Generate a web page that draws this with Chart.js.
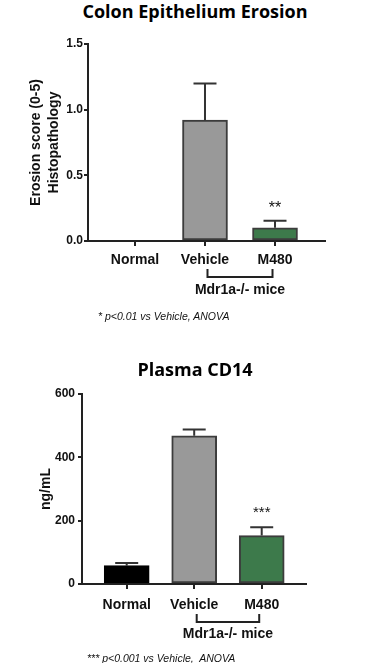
<!DOCTYPE html>
<html>
<head>
<meta charset="utf-8">
<script src="https://cdn.jsdelivr.net/npm/chart.js@4/dist/chart.umd.min.js"></script>
<style>
  html, body { margin: 0; padding: 0; background: #fff; }
  body { width: 372px; height: 663px; position: relative; overflow: hidden; }
  .box { position: absolute; left: 0; width: 372px; }
  .title { position: absolute; font-family: "Open Sans", sans-serif; font-weight: 700; font-size: 18px; color: #000; white-space: nowrap; transform: translate(-50%, -50%); line-height: 1; }
  .note { position: absolute; font-family: "Liberation Sans", Arial, sans-serif; font-style: italic; font-size: 10.5px; color: #111; white-space: nowrap; transform: translateY(-50%); line-height: 1; }
</style>
</head>
<body>
<div class="title" style="left:195px; top:11px;">Colon Epithelium Erosion</div>
<div class="box" style="top:0; height:330px;"><canvas id="c1"></canvas></div>
<div class="note" style="left:98px; top:316px;">* p&lt;0.01 vs Vehicle, ANOVA</div>

<div class="title" style="left:195px; top:369px;">Plasma CD14</div>
<div class="box" style="top:330px; height:333px;"><canvas id="c2"></canvas></div>
<div class="note" style="left:87px; top:658px;">*** p&lt;0.001 vs Vehicle,&nbsp; ANOVA</div>

<script>
// ---- data ----
const categories = ['Normal', 'Vehicle', 'M480'];
const barColors = ['#000000', '#999999', '#3d7a4b'];
const borderColors = ['#000000', '#3c3c3c', '#3c3c3c'];

const erosionMean = [0, 0.92, 0.10];
const erosionSem = [0, 0.28, 0.055];
const erosionStars = ['', '', '**'];
const erosionTicks = [0, 0.5, 1.0, 1.5];

const cd14Mean = [58, 468, 153];
const cd14Sem = [8, 20, 26];
const cd14Stars = ['', '', '***'];
const cd14Ticks = [0, 200, 400, 600];

const groupLabel = 'Mdr1a-/- mice';

Chart.defaults.font.family = '"Liberation Sans", Arial, sans-serif';
Chart.defaults.color = '#111';

function makeChart(id, cfg) {
  const extras = {
    id: 'extras',
    afterDatasetsDraw(chart) {
      const ctx = chart.ctx;
      const xs = chart.scales.x, ys = chart.scales.y;
      ctx.save();
      // error bars
      ctx.strokeStyle = '#333';
      ctx.lineWidth = 2;
      cfg.mean.forEach((m, i) => {
        if (!cfg.sem[i]) return;
        const x = xs.getPixelForValue(i);
        const yb = ys.getPixelForValue(m);
        const yt = ys.getPixelForValue(m + cfg.sem[i]);
        ctx.beginPath();
        ctx.moveTo(x, yb); ctx.lineTo(x, yt);
        ctx.moveTo(x - 11.5, yt); ctx.lineTo(x + 11.5, yt);
        ctx.stroke();
        if (cfg.stars[i]) {
          ctx.fillStyle = '#111';
          ctx.font = cfg.starFont;
          ctx.textAlign = 'center';
          ctx.textBaseline = 'middle';
          ctx.fillText(cfg.stars[i], x, yt - cfg.starGap);
        }
      });
      // bracket under Vehicle / M480
      const x1 = xs.getPixelForValue(1) + cfg.bracketInset;
      const x2 = xs.getPixelForValue(2) - cfg.bracketInset;
      const yB = chart.chartArea.bottom + cfg.bracketY;
      ctx.strokeStyle = '#222';
      ctx.lineWidth = 2;
      ctx.beginPath();
      ctx.moveTo(x1, yB - 8); ctx.lineTo(x1, yB); ctx.lineTo(x2, yB); ctx.lineTo(x2, yB - 8);
      ctx.stroke();
      ctx.fillStyle = '#111';
      ctx.font = 'bold 14px "Liberation Sans", Arial, sans-serif';
      ctx.textAlign = 'center';
      ctx.textBaseline = 'middle';
      ctx.fillText(groupLabel, (x1 + x2) / 2, chart.chartArea.bottom + cfg.labelY);
      ctx.restore();
    }
  };

  return new Chart(document.getElementById(id), {
    type: 'bar',
    data: {
      datasets: [{
        data: cfg.mean.map((v, i) => ({ x: i, y: v })),
        backgroundColor: barColors,
        borderColor: borderColors,
        borderWidth: 2,
        borderSkipped: false,
        barThickness: 45
      }]
    },
    options: {
      responsive: true,
      maintainAspectRatio: false,
      animation: false,
      layout: { padding: cfg.padding },
      plugins: { legend: { display: false }, tooltip: { enabled: false }, title: { display: false } },
      scales: {
        x: {
          type: 'linear',
          offset: false,
          bounds: 'data',
          min: cfg.xMin, max: cfg.xMax,
          afterBuildTicks: s => { s.ticks = categories.map((c, i) => ({ value: i })); },
          afterFit: s => { s.height = cfg.xHeight; },
          ticks: {
            callback: v => categories[v],
            font: { size: 14, weight: 'bold' },
            color: '#111',
            padding: cfg.xPad,
            autoSkip: false,
            maxRotation: 0
          },
          grid: { offset: false, drawOnChartArea: false, tickLength: 5, color: '#222', lineWidth: 2 },
          border: { color: '#222', width: 2 }
        },
        y: {
          min: cfg.ticks[0], max: cfg.ticks[cfg.ticks.length - 1],
          afterBuildTicks: s => { s.ticks = cfg.ticks.map(v => ({ value: v })); },
          afterFit: s => { s.width = cfg.yWidth; },
          ticks: {
            callback: cfg.fmt,
            font: { size: 12, weight: 'bold' },
            color: '#111',
            padding: cfg.yPad
          },
          grid: { drawOnChartArea: false, tickLength: 4, color: '#222', lineWidth: 2 },
          border: { color: '#222', width: 2 },
          title: {
            display: true,
            text: cfg.yTitle,
            font: { size: 14, weight: 'bold', lineHeight: 1.3 },
            color: '#111',
            padding: { top: cfg.yTitlePad, bottom: 0 }
          }
        }
      }
    },
    plugins: [extras]
  });
}

makeChart('c1', {
  mean: erosionMean, sem: erosionSem, stars: erosionStars, ticks: erosionTicks,
  fmt: v => Number(v).toFixed(1),
  yTitle: ['Erosion score (0-5)', 'Histopathology'], yTitlePad: 27,
  padding: { top: 44, right: 47, left: 0, bottom: 0 },
  xMin: -0.671, xMax: 2.714, xHeight: 89, yWidth: 88, xPad: 6, yPad: 1,
  starFont: '16px "Liberation Sans", Arial, sans-serif', starGap: 12,
  bracketInset: 2.5, bracketY: 36, labelY: 49
});

makeChart('c2', {
  mean: cd14Mean, sem: cd14Sem, stars: cd14Stars, ticks: cd14Ticks,
  fmt: v => String(v),
  yTitle: 'ng/mL', yTitlePad: 37,
  padding: { top: 64, right: 66, left: 0, bottom: 0 },
  xMin: -0.662, xMax: 2.656, xHeight: 79, yWidth: 82, xPad: 8, yPad: 3,
  starFont: '15px "Liberation Sans", Arial, sans-serif', starGap: 14,
  bracketInset: 2.5, bracketY: 38, labelY: 50
});
</script>
</body>
</html>
